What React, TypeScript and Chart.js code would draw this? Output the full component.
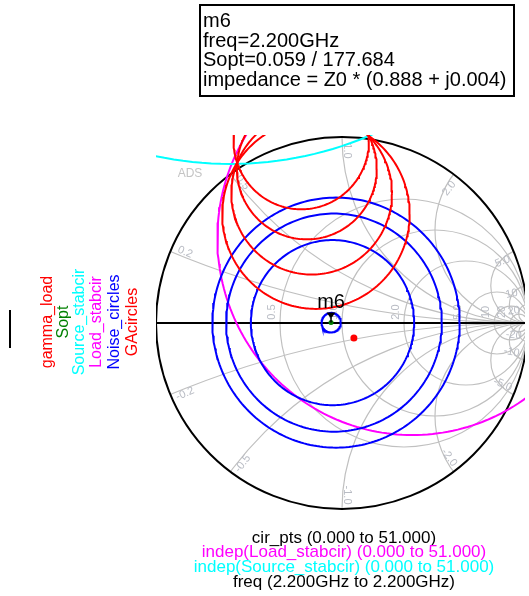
import { useEffect, useRef } from "react";
import { Chart, registerables } from "chart.js";

Chart.register(...registerables);

const FONT = '"Liberation Sans", Arial, sans-serif';

// Reflection-coefficient plane: every value below is (Re Γ, Im Γ) or a radius in Γ units.
const GA_CX = [-0.219, -0.189, -0.163, -0.14];
const GA_CY = [0.969, 0.821, 0.69, 0.579];
const GA_R = [0.364, 0.376, 0.432, 0.504];

const NOISE_CX = [-0.032, -0.043, -0.051, -0.058];
const NOISE_CY = [0.002, 0.002, 0.002, 0.002];
const NOISE_R = [0.665, 0.58, 0.439, 0.052];

// stability circles: [centre re, centre im, radius]
const SOURCE_STAB = [-0.601, 2.787, 1.941];
const LOAD_STAB = [0.378, 0.452, 1.048];

// Sopt as reported by marker m6 (magnitude / angle in degrees)
const SOPT_MAG = 0.059;
const SOPT_ANG = 177.684;
const GAMMA_LOAD = [0.064, -0.08];

// Smith grid
const R_CIRCLES = [0.5, 1, 2, 5, 10, 20];
const X_ARCS = [0.2, 0.5, 1, 2, 5, 10, 20];

const CIR_SEGMENTS = 240;
const X_MAX = 0.984;

const MARKER_LINES = [
  "m6",
  "freq=2.200GHz",
  "Sopt=0.059 / 177.684",
  "impedance = Z0 * (0.888 + j0.004)",
];

const LEGEND = [
  { text: "gamma_load", color: "#ff0000" },
  { text: "Sopt", color: "#008000" },
  { text: "Source_stabcir", color: "#00ffff" },
  { text: "Load_stabcir", color: "#ff00ff" },
  { text: "Noise_circles", color: "#0000ff" },
  { text: "GAcircles", color: "#ff0000" },
];

const SWEEP_LINES = [
  { text: "cir_pts (0.000 to 51.000)", color: "#000000" },
  { text: "indep(Load_stabcir) (0.000 to 51.000)", color: "#ff00ff" },
  { text: "indep(Source_stabcir) (0.000 to 51.000)", color: "#00ffff" },
  { text: "freq (2.200GHz to 2.200GHz)", color: "#000000" },
];

function circlePoints(cx: number, cy: number, r: number) {
  const pts: { x: number; y: number }[] = [];
  for (let i = 0; i <= CIR_SEGMENTS; i++) {
    const a = (2 * Math.PI * i) / CIR_SEGMENTS;
    pts.push({ x: cx + r * Math.cos(a), y: cy + r * Math.sin(a) });
  }
  return pts;
}

function fmt(v: number) {
  return v < 10 ? v.toFixed(1) : String(v);
}

const smithGrid = {
  id: "smithGrid",
  beforeDatasetsDraw(chart: any) {
    const { ctx, chartArea } = chart;
    const xs = chart.scales.x;
    const ys = chart.scales.y;
    const cx = xs.getPixelForValue(0);
    const cy = ys.getPixelForValue(0);
    const u = xs.getPixelForValue(1) - cx;

    ctx.save();
    ctx.beginPath();
    ctx.rect(chartArea.left, chartArea.top, chartArea.right - chartArea.left, chartArea.bottom - chartArea.top);
    ctx.clip();

    // grid inside the unit circle
    ctx.save();
    ctx.beginPath();
    ctx.arc(cx, cy, u, 0, Math.PI * 2);
    ctx.clip();
    ctx.strokeStyle = "#c0c0c0";
    ctx.lineWidth = 1.2;
    for (const r of R_CIRCLES) {
      ctx.beginPath();
      ctx.arc(cx + (u * r) / (1 + r), cy, u / (1 + r), 0, Math.PI * 2);
      ctx.stroke();
    }
    for (const xv of X_ARCS) {
      for (const s of [1, -1]) {
        ctx.beginPath();
        ctx.arc(cx + u, cy - (s * u) / xv, u / xv, 0, Math.PI * 2);
        ctx.stroke();
      }
    }
    ctx.restore();

    // grid labels
    ctx.fillStyle = "#b9bcc4";
    ctx.font = `11px ${FONT}`;
    ctx.textAlign = "center";
    ctx.textBaseline = "middle";
    for (const r of R_CIRCLES) {
      const px = cx + (u * (r - 1)) / (r + 1);
      ctx.save();
      ctx.translate(px - 8, cy - 11);
      ctx.rotate(-Math.PI / 2);
      ctx.fillText(fmt(r), 0, 0);
      ctx.restore();
    }
    for (const xv of X_ARCS) {
      for (const s of [1, -1]) {
        const x = s * xv;
        const gr = (x * x - 1) / (x * x + 1);
        const gi = (2 * x) / (x * x + 1);
        const th = Math.atan2(gi, gr);
        const rr = 0.925;
        let ang = -th;
        const tx = -Math.sin(th) * s;
        const ty = Math.cos(th) * s;
        const off = 5;
        const lx = cx + u * rr * gr - off * tx;
        const ly = cy - u * rr * gi + off * ty;
        while (ang > Math.PI / 2) ang -= Math.PI;
        while (ang <= -Math.PI / 2) ang += Math.PI;
        ctx.save();
        ctx.translate(lx, ly);
        ctx.rotate(ang);
        ctx.fillText((s < 0 ? "-" : "") + fmt(xv), 0, 0);
        ctx.restore();
      }
    }

    // outer circle and real axis
    ctx.strokeStyle = "#000000";
    ctx.lineWidth = 2;
    ctx.beginPath();
    ctx.arc(cx, cy, u, 0, Math.PI * 2);
    ctx.stroke();
    ctx.beginPath();
    ctx.moveTo(cx - u, cy);
    ctx.lineTo(cx + u, cy);
    ctx.stroke();
    ctx.restore();
  },
  afterDatasetsDraw(chart: any) {
    const { ctx } = chart;
    const xs = chart.scales.x;
    const ys = chart.scales.y;
    const a = (SOPT_ANG * Math.PI) / 180;
    const px = xs.getPixelForValue(SOPT_MAG * Math.cos(a));
    const py = ys.getPixelForValue(SOPT_MAG * Math.sin(a));

    ctx.save();
    // marker m6
    ctx.fillStyle = "#000000";
    ctx.strokeStyle = "#000000";
    ctx.lineWidth = 1.5;
    ctx.beginPath();
    ctx.moveTo(px, py - 5);
    ctx.lineTo(px, py);
    ctx.stroke();
    ctx.beginPath();
    ctx.moveTo(px - 4.5, py - 10);
    ctx.lineTo(px + 4.5, py - 10);
    ctx.lineTo(px, py - 4);
    ctx.closePath();
    ctx.fill();
    ctx.font = `20px ${FONT}`;
    ctx.textAlign = "center";
    ctx.textBaseline = "alphabetic";
    ctx.fillText("m6", px, py - 15);

    // "ADS" stamp
    ctx.fillStyle = "#c4c4c4";
    ctx.font = `12px ${FONT}`;
    ctx.fillText("ADS", 190, 177);

    // marker readout box
    ctx.strokeStyle = "#000000";
    ctx.lineWidth = 2;
    ctx.strokeRect(200, 5, 314, 91);
    ctx.fillStyle = "#000000";
    ctx.font = `20px ${FONT}`;
    ctx.textAlign = "left";
    const bl = [27, 47, 66, 86];
    MARKER_LINES.forEach((t, i) => ctx.fillText(t, 203, bl[i]));

    // trace names, rotated
    ctx.font = `16px ${FONT}`;
    ctx.textAlign = "center";
    ctx.textBaseline = "middle";
    const lx = [48, 64, 80, 97, 115, 133];
    LEGEND.forEach((l, i) => {
      ctx.save();
      ctx.translate(lx[i], 322);
      ctx.rotate(-Math.PI / 2);
      ctx.fillStyle = l.color;
      ctx.fillText(l.text, 0, 0);
      ctx.restore();
    });
    ctx.strokeStyle = "#000000";
    ctx.lineWidth = 2;
    ctx.beginPath();
    ctx.moveTo(10, 310);
    ctx.lineTo(10, 348);
    ctx.stroke();

    // sweep ranges
    ctx.font = `17px ${FONT}`;
    ctx.textBaseline = "alphabetic";
    const sb = [543, 557, 572, 587];
    SWEEP_LINES.forEach((l, i) => {
      ctx.fillStyle = l.color;
      ctx.fillText(l.text, 344, sb[i]);
    });
    ctx.restore();
  },
};

export default function App() {
  const ref = useRef<HTMLCanvasElement>(null);

  useEffect(() => {
    if (!ref.current) return;
    const a = (SOPT_ANG * Math.PI) / 180;
    const curve = (data: any, color: string) => ({
      data,
      borderColor: color,
      backgroundColor: color,
      borderWidth: 2,
      showLine: true,
      pointRadius: 0,
      tension: 0,
      clip: 0,
    });
    const datasets: any[] = [];
    GA_R.forEach((r, i) => datasets.push(curve(circlePoints(GA_CX[i], GA_CY[i], r), "#ff0000")));
    NOISE_R.forEach((r, i) => datasets.push(curve(circlePoints(NOISE_CX[i], NOISE_CY[i], r), "#0000ff")));
    datasets.push(curve(circlePoints(SOURCE_STAB[0], SOURCE_STAB[1], SOURCE_STAB[2]), "#00ffff"));
    datasets.push(curve(circlePoints(LOAD_STAB[0], LOAD_STAB[1], LOAD_STAB[2]), "#ff00ff"));
    datasets.push({
      data: [{ x: SOPT_MAG * Math.cos(a), y: SOPT_MAG * Math.sin(a) }],
      pointRadius: 2.5,
      backgroundColor: "#008000",
      borderColor: "#008000",
      borderWidth: 0,
      showLine: false,
    });
    datasets.push({
      data: [{ x: GAMMA_LOAD[0], y: GAMMA_LOAD[1] }],
      pointRadius: 3.5,
      backgroundColor: "#ff0000",
      borderColor: "#ff0000",
      borderWidth: 0,
      showLine: false,
    });

    const chart = new Chart(ref.current, {
      type: "scatter",
      data: { datasets },
      options: {
        animation: false,
        responsive: false,
        devicePixelRatio: 1,
        layout: { padding: { left: 156, top: 135, right: 0, bottom: 85 } },
        scales: {
          x: { type: "linear", min: -1, max: X_MAX, display: false },
          y: { type: "linear", min: -1, max: 1, display: false },
        },
        plugins: { legend: { display: false }, tooltip: { enabled: false } },
        events: [],
      },
      plugins: [smithGrid],
    });
    return () => chart.destroy();
  }, []);

  return (
    <div style={{ position: "fixed", left: 0, top: 0, width: 529, height: 596, background: "#fff", overflow: "hidden" }}>
      <canvas ref={ref} width={529} height={596} style={{ display: "block" }} />
    </div>
  );
}
